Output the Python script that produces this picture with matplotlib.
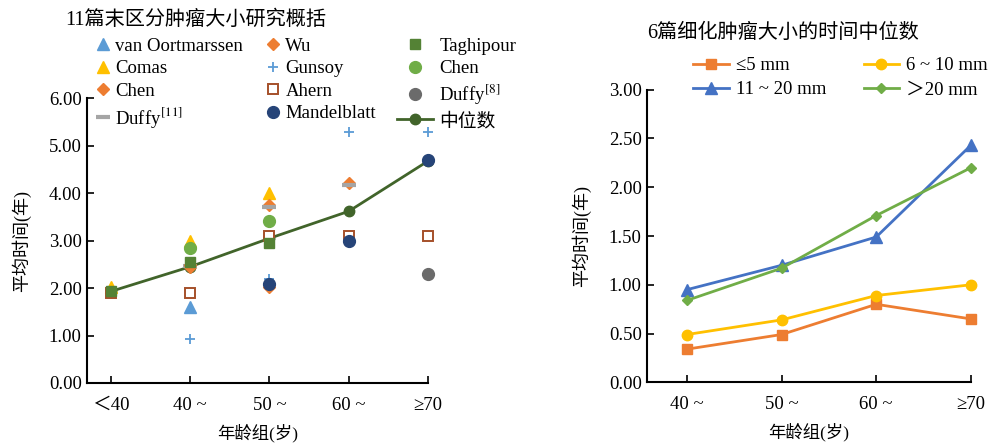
import numpy as np
import matplotlib
matplotlib.use("Agg")
import matplotlib.pyplot as plt

plt.rcParams["font.family"] = ["Liberation Serif", "Noto Sans CJK SC"]
plt.rcParams["mathtext.fontset"] = "stix"

nan = np.nan

# left panel: 11 studies, age groups
age_left = ["＜40", "40 ~", "50 ~", "60 ~", "≥70"]
van_oortmarssen = [nan, 1.60, nan, nan, nan]
comas = [2.02, 3.00, 4.00, nan, nan]
chen_diamond = [nan, 2.45, 3.75, 4.22, nan]
duffy11 = [nan, 2.47, 3.72, 4.18, nan]
wu = [nan, 2.48, 2.03, nan, nan]
gunsoy = [nan, 0.92, 2.20, 5.30, 5.30]
ahern = [1.90, 1.90, 3.10, 3.10, 3.10]
mandelblatt = [nan, nan, 2.08, 3.00, 4.70]
taghipour = [1.95, 2.55, 2.95, nan, nan]
chen_circle = [nan, 2.84, 3.42, nan, nan]
duffy8 = [nan, nan, nan, nan, 2.30]
median_left = [1.93, 2.45, 3.05, 3.62, 4.68]

# right panel: medians by tumour size
age_right = ["40 ~", "50 ~", "60 ~", "≥70"]
size_le5 = [0.34, 0.49, 0.80, 0.65]
size_6_10 = [0.49, 0.64, 0.89, 1.00]
size_11_20 = [0.95, 1.20, 1.49, 2.43]
size_gt20 = [0.84, 1.17, 1.71, 2.20]

BLUE = "#5B9BD5"
ORANGE = "#ED7D31"
YELLOW = "#FFC000"
GRAY = "#A5A5A5"
BROWN = "#A5502A"
NAVY = "#264478"
DGREEN = "#548235"
LGREEN = "#70AD47"
DGRAY = "#6B6B6B"
MEDIAN = "#41642A"

fig = plt.figure(figsize=(10.05, 4.46), dpi=100)
ax1 = fig.add_axes([0.0869, 0.1413, 0.339, 0.638])
ax2 = fig.add_axes([0.644, 0.1428, 0.322, 0.656])

x1 = np.arange(len(age_left))
studies = [
    ("van Oortmarssen", van_oortmarssen, dict(marker="^", color=BLUE, ms=8)),
    ("Comas", comas, dict(marker="^", color=YELLOW, ms=8)),
    ("Chen", chen_diamond, dict(marker="D", color=ORANGE, ms=6)),
    ("Duffy$^{[11]}$", duffy11, dict(marker="_", color=GRAY, ms=10, mew=3)),
    ("Wu", wu, dict(marker="D", color=ORANGE, ms=6)),
    ("Gunsoy", gunsoy, dict(marker="+", color=BLUE, ms=7, mew=1.3)),
    ("Ahern", ahern, dict(marker="s", color=BROWN, ms=7.5, mfc="white", mew=1.4)),
    ("Mandelblatt", mandelblatt, dict(marker="o", color=NAVY, ms=8.5)),
    ("Taghipour", taghipour, dict(marker="s", color=DGREEN, ms=7.5)),
    ("Chen", chen_circle, dict(marker="o", color=LGREEN, ms=8.5)),
    ("Duffy$^{[8]}$", duffy8, dict(marker="o", color=DGRAY, ms=8.5)),
]

handles = []
for name, vals, style in studies:
    (h,) = ax1.plot(x1, vals, linestyle="none", label=name, zorder=3,
                    clip_on=False, **style)
    handles.append(h)
(hm,) = ax1.plot(x1, median_left, color=MEDIAN, lw=2, marker="o", ms=7.5,
                 label="中位数", zorder=2, clip_on=False)

ax1.set_xlim(-0.295, 4)
ax1.set_ylim(0, 6)
ax1.set_yticks(np.arange(0, 6.01, 1))
ax1.set_yticklabels([f"{v:.2f}" for v in np.arange(0, 6.01, 1)])
ax1.set_xticks(x1)
ax1.set_xticklabels(age_left)
ax1.set_ylabel("平均时间(年)", fontsize=13, labelpad=13)
ax1.set_xlabel("年龄组(岁)", fontsize=12.5, labelpad=7)
fig.text(0.065, 0.955, "11篇末区分肿瘤大小研究概括", fontsize=14.5, va="center", ha="left")

leg1 = fig.legend(handles[:8], [h.get_label() for h in handles[:8]], ncol=2,
                  loc="upper left", bbox_to_anchor=(0.097, 0.915), frameon=False,
                  fontsize=13.5, handlelength=0.6, handletextpad=0.35,
                  columnspacing=1.3, borderpad=0, labelspacing=0.28,
                  borderaxespad=0)
leg1b = fig.legend(handles[8:] + [hm], [h.get_label() for h in handles[8:]] + ["中位数"],
                   ncol=1, loc="upper left", bbox_to_anchor=(0.395, 0.915),
                   frameon=False, fontsize=13.5, handlelength=1.9,
                   handletextpad=0.35, borderpad=0, labelspacing=0.28,
                   borderaxespad=0)

x2 = np.arange(len(age_right))
l1, = ax2.plot(x2, size_le5, color=ORANGE, lw=2, marker="s", ms=7.5, label="≤5 mm", clip_on=False)
l2, = ax2.plot(x2, size_6_10, color=YELLOW, lw=2, marker="o", ms=7.5, label="6 ~ 10 mm", clip_on=False)
l3, = ax2.plot(x2, size_11_20, color="#4472C4", lw=2, marker="^", ms=8, label="11 ~ 20 mm", clip_on=False)
l4, = ax2.plot(x2, size_gt20, color=LGREEN, lw=2, marker="D", ms=5.5, label="＞20 mm", clip_on=False)

ax2.set_xlim(-0.42, 3)
ax2.set_ylim(0, 3)
yt2 = np.arange(0, 3.01, 0.5)
ax2.set_yticks(yt2)
ax2.set_yticklabels([f"{v:.2f}" for v in yt2])
ax2.set_xticks(x2)
ax2.set_xticklabels(age_right)
ax2.set_ylabel("平均时间(年)", fontsize=13, labelpad=13)
ax2.set_xlabel("年龄组(岁)", fontsize=12.5, labelpad=7)
fig.text(0.779, 0.925, "6篇细化肿瘤大小的时间中位数", fontsize=14.5, va="center", ha="center")
ax2.legend([l1, l3, l2, l4], [l.get_label() for l in (l1, l3, l2, l4)],
           ncol=2, loc="upper left", bbox_to_anchor=(0.69, 0.872),
           bbox_transform=fig.transFigure, frameon=False, fontsize=13.5,
           handlelength=1.9, handletextpad=0.35, columnspacing=2.0,
           borderpad=0, labelspacing=0.38, borderaxespad=0)

for ax in (ax1, ax2):
    ax.spines["top"].set_visible(False)
    ax.spines["right"].set_visible(False)
    ax.spines["left"].set_linewidth(1.5)
    ax.spines["bottom"].set_linewidth(1.5)
    ax.tick_params(direction="in", length=5, width=1.2, labelsize=13.5, pad=4)
    ax.tick_params(axis="x", pad=10)

fig.savefig("out.png", dpi=100, facecolor="white")
